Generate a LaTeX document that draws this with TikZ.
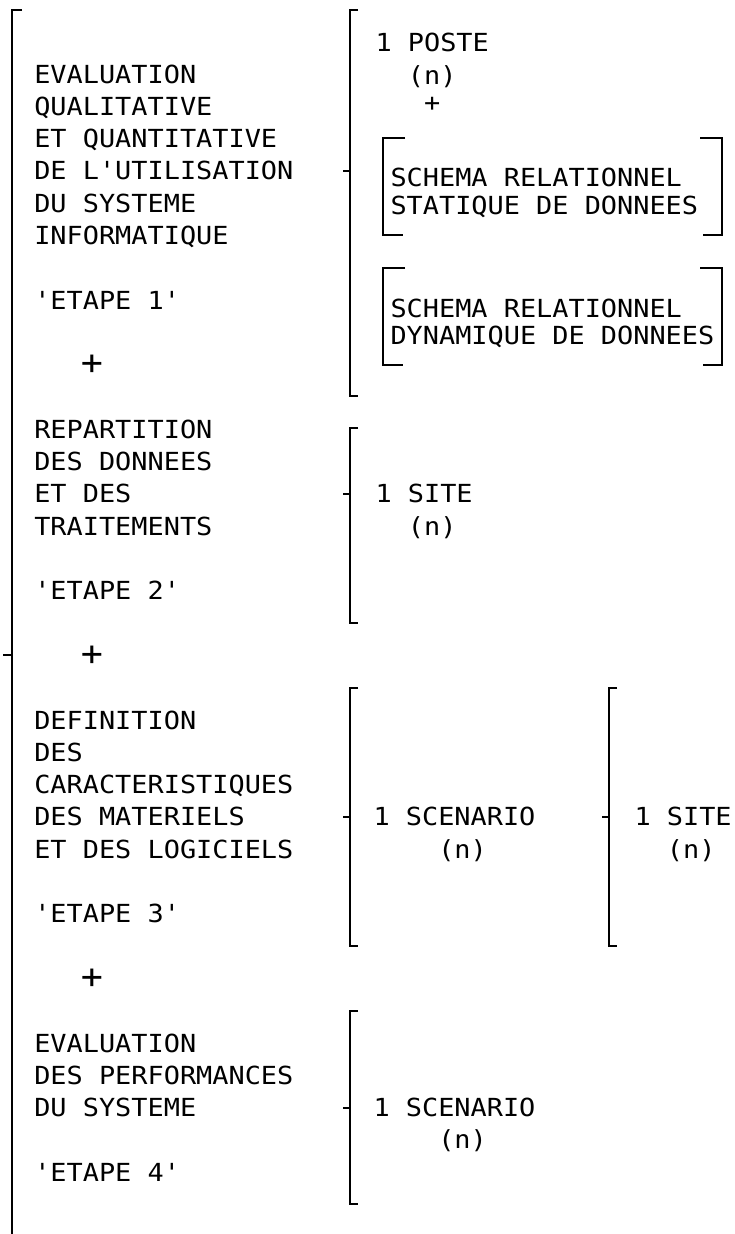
\documentclass[tikz,border=0pt]{standalone}
\usepackage{fontspec}
\newfontfamily\dmono[FakeStretch=1.08,Ligatures=ResetAll]{DejaVu Sans Mono}
\begin{document}
\begin{tikzpicture}[x=1pt,y=-1pt,
  txt/.style={anchor=base west,inner sep=0pt,outer sep=0pt,font=\dmono\fontsize{24.9}{30}\selectfont},
  bigplus/.style={anchor=center,inner sep=0pt,outer sep=0pt,font=\dmono\fontsize{34}{40}\selectfont},
  brk/.style={line width=1.8pt,black}]
\useasboundingbox (0,0) rectangle (734,1234);
% left column, printer line grid: centre 74 + 32.3 n, baseline +9
\foreach \n/\t in {0/EVALUATION,1/QUALITATIVE,2/ET QUANTITATIVE,3/DE L'UTILISATION,4/DU SYSTEME,5/INFORMATIQUE,7/'ETAPE 1',
  11/REPARTITION,12/DES DONNEES,13/ET DES,14/TRAITEMENTS,16/'ETAPE 2',
  20/DEFINITION,21/DES,22/CARACTERISTIQUES,23/DES MATERIELS,24/ET DES LOGICIELS,26/'ETAPE 3',
  30/EVALUATION,31/DES PERFORMANCES,32/DU SYSTEME,34/'ETAPE 4'}
  \node[txt] (L\n) at (34.3,{83+32.3*\n}) {\t};
\foreach \n in {9,18,28}
  \node[bigplus] (P\n) at (92,{74+32.3*\n}) {+};
% right column, step 1
\node[txt] (poste) at (375.5,51) {1 POSTE};
\node[txt] (posten) at (407.9,84) {(n)};
\node[txt] (posteplus) at (424.1,111) {+};
\node[txt] (s1a) at (390.5,186) {SCHEMA RELATIONNEL};
\node[txt] (s1b) at (390.5,214) {STATIQUE DE DONNEES};
\node[txt] (s2a) at (390.5,317) {SCHEMA RELATIONNEL};
\node[txt] (s2b) at (390.5,344) {DYNAMIQUE DE DONNEES};
% step 2
\node[txt] (site2) at (375.5,{83+32.3*13}) {1 SITE};
\node[txt] (site2n) at (407.9,{83+32.3*14}) {(n)};
% step 3
\node[txt] (scen3) at (373.5,{83+32.3*23}) {1 SCENARIO};
\node[txt] (scen3n) at (438.3,{83+32.3*24}) {(n)};
\node[txt] (site3) at (634.5,{83+32.3*23}) {1 SITE};
\node[txt] (site3n) at (666.9,{83+32.3*24}) {(n)};
% step 4
\node[txt] (scen4) at (373.5,{83+32.3*32}) {1 SCENARIO};
\node[txt] (scen4n) at (438.3,{83+32.3*33}) {(n)};
% brackets
\draw[brk] (22,10) -- (12,10) -- (12,1234);
\draw[brk] (12,655) -- (3,655);
\draw[brk] (358,10) -- (350,10) -- (350,396) -- (358,396);
\draw[brk] (350,171) -- (343,171);
\draw[brk] (358,428) -- (350,428) -- (350,623) -- (358,623);
\draw[brk] (350,494) -- (343,494);
\draw[brk] (358,688) -- (350,688) -- (350,946) -- (358,946);
\draw[brk] (350,817) -- (343,817);
\draw[brk] (617,688) -- (609,688) -- (609,946) -- (617,946);
\draw[brk] (609,817) -- (602,817);
\draw[brk] (358,1011) -- (350,1011) -- (350,1204) -- (358,1204);
\draw[brk] (350,1108) -- (343,1108);
% boxes
\draw[brk] (405,138) -- (383,138) -- (383,235) -- (403,235);
\draw[brk] (700,138) -- (722,138) -- (722,235) -- (703,235);
\draw[brk] (405,268) -- (383,268) -- (383,365) -- (403,365);
\draw[brk] (700,268) -- (722,268) -- (722,365) -- (703,365);
\end{tikzpicture}
\end{document}
